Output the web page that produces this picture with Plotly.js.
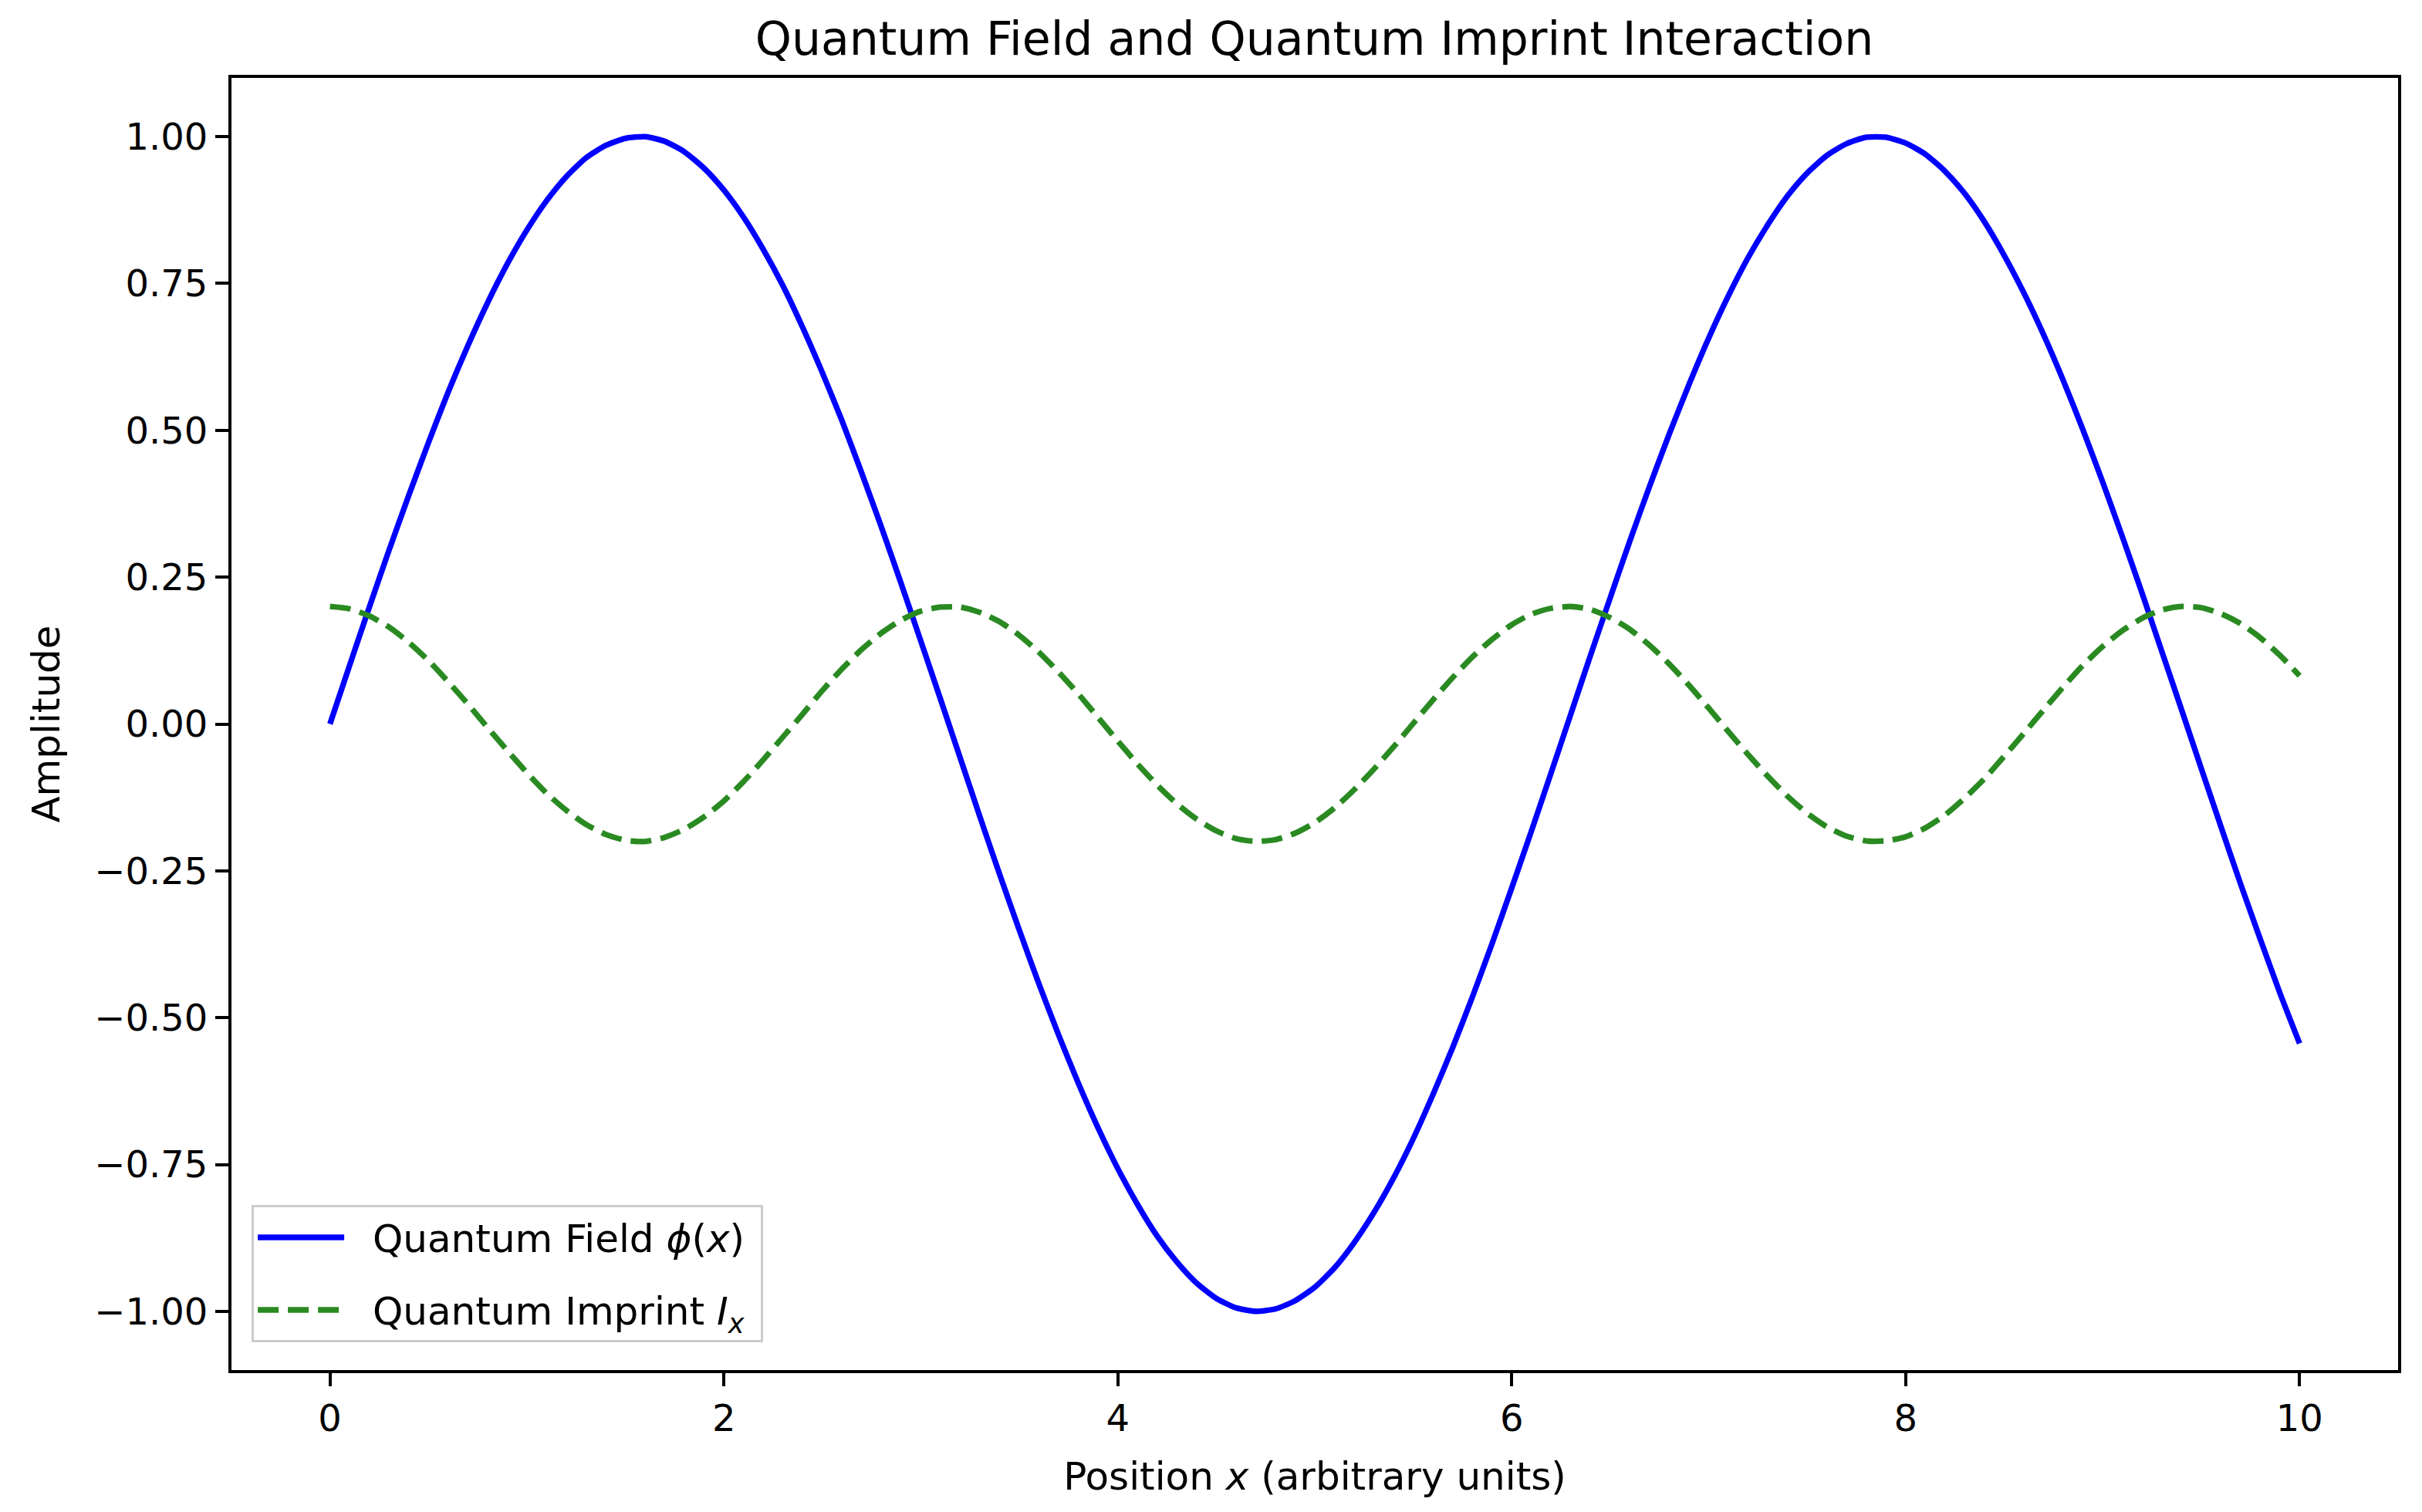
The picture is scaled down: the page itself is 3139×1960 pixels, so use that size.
<!DOCTYPE html>
<html>
<head>
<meta charset="utf-8">
<script src="https://cdn.plot.ly/plotly-3.0.1.min.js"></script>
<style>
html, body { margin: 0; padding: 0; background: #ffffff; }
#chart { width: 3139px; height: 1960px; }
</style>
</head>
<body>
<div id="chart"></div>
<script>
// Position x (arbitrary units)
const positionX = [
  0.0, 0.1, 0.2, 0.3, 0.4, 0.5, 0.6, 0.7, 0.8, 0.9,
  1.0, 1.1, 1.2, 1.3, 1.4, 1.5, 1.6, 1.7, 1.8, 1.9,
  2.0, 2.1, 2.2, 2.3, 2.4, 2.5, 2.6, 2.7, 2.8, 2.9,
  3.0, 3.1, 3.2, 3.3, 3.4, 3.5, 3.6, 3.7, 3.8, 3.9,
  4.0, 4.1, 4.2, 4.3, 4.4, 4.5, 4.6, 4.7, 4.8, 4.9,
  5.0, 5.1, 5.2, 5.3, 5.4, 5.5, 5.6, 5.7, 5.8, 5.9,
  6.0, 6.1, 6.2, 6.3, 6.4, 6.5, 6.6, 6.7, 6.8, 6.9,
  7.0, 7.1, 7.2, 7.3, 7.4, 7.5, 7.6, 7.7, 7.8, 7.9,
  8.0, 8.1, 8.2, 8.3, 8.4, 8.5, 8.6, 8.7, 8.8, 8.9,
  9.0, 9.1, 9.2, 9.3, 9.4, 9.5, 9.6, 9.7, 9.8, 9.9,
  10.0
];

// Quantum Field phi(x)
const quantumField = [
  0.000, 0.100, 0.199, 0.296, 0.389, 0.479, 0.565, 0.644, 0.717, 0.783,
  0.841, 0.891, 0.932, 0.964, 0.985, 0.997, 1.000, 0.992, 0.974, 0.946,
  0.909, 0.863, 0.808, 0.746, 0.675, 0.598, 0.516, 0.427, 0.335, 0.239,
  0.141, 0.042, -0.058, -0.158, -0.256, -0.351, -0.443, -0.530, -0.612, -0.688,
  -0.757, -0.818, -0.872, -0.916, -0.952, -0.978, -0.994, -1.000, -0.996, -0.982,
  -0.959, -0.926, -0.883, -0.832, -0.773, -0.706, -0.631, -0.551, -0.465, -0.374,
  -0.279, -0.182, -0.083, 0.017, 0.117, 0.215, 0.312, 0.405, 0.494, 0.578,
  0.657, 0.729, 0.794, 0.850, 0.899, 0.938, 0.968, 0.988, 0.999, 0.999,
  0.989, 0.970, 0.941, 0.903, 0.855, 0.798, 0.734, 0.663, 0.585, 0.501,
  0.412, 0.319, 0.223, 0.124, 0.025, -0.075, -0.174, -0.272, -0.366, -0.458,
  -0.544
];

// Quantum Imprint I_x
const quantumImprint = [
  0.200, 0.196, 0.184, 0.165, 0.139, 0.108, 0.072, 0.034, -0.006, -0.045,
  -0.083, -0.118, -0.147, -0.171, -0.188, -0.198, -0.200, -0.193, -0.179, -0.158,
  -0.131, -0.098, -0.061, -0.022, 0.017, 0.057, 0.094, 0.127, 0.155, 0.177,
  0.192, 0.199, 0.199, 0.190, 0.174, 0.151, 0.122, 0.088, 0.051, 0.011,
  -0.029, -0.068, -0.104, -0.136, -0.162, -0.182, -0.195, -0.200, -0.197, -0.186,
  -0.168, -0.143, -0.112, -0.077, -0.039, 0.001, 0.041, 0.079, 0.114, 0.144,
  0.169, 0.187, 0.197, 0.200, 0.195, 0.181, 0.161, 0.134, 0.102, 0.066,
  0.027, -0.013, -0.052, -0.089, -0.123, -0.152, -0.175, -0.191, -0.199, -0.199,
  -0.192, -0.177, -0.155, -0.126, -0.093, -0.055, -0.016, 0.024, 0.063, 0.100,
  0.132, 0.159, 0.180, 0.194, 0.200, 0.198, 0.188, 0.171, 0.147, 0.117,
  0.082
];

const xTickVals = [0, 2, 4, 6, 8, 10];
const xTickText = ['0', '2', '4', '6', '8', '10'];
const yTickVals = [-1.0, -0.75, -0.5, -0.25, 0.0, 0.25, 0.5, 0.75, 1.0];
const yTickText = ['\u22121.00', '\u22120.75', '\u22120.50', '\u22120.25', '0.00', '0.25', '0.50', '0.75', '1.00'];

const FONT = 'DejaVu Sans, Verdana, sans-serif';

const traces = [
  {
    x: positionX,
    y: quantumField,
    type: 'scatter',
    mode: 'lines',
    name: '\u00a0\u00a0Quantum Field <i>\u03D5</i>(<i>x</i>)\u00a0',
    legendgroup: 'a',
    line: { color: '#0000ff', width: 7.3, shape: 'spline', smoothing: 0.6 }
  },
  {
    x: positionX,
    y: quantumImprint,
    type: 'scatter',
    mode: 'lines',
    name: '\u00a0\u00a0Quantum Imprint <i>I</i><sub><i>x</i></sub>\u00a0',
    legendgroup: 'b',
    line: { color: '#2a8a22', width: 7.3, dash: '27px,12px', shape: 'spline', smoothing: 0.6 }
  }
];

const layout = {
  width: 3139,
  height: 1960,
  paper_bgcolor: '#ffffff',
  plot_bgcolor: '#ffffff',
  margin: { l: 300, r: 31, t: 101, b: 184, pad: 0 },
  font: { family: FONT, size: 48, color: '#000000' },
  title: {
    text: 'Quantum Field and Quantum Imprint Interaction',
    font: { family: FONT, size: 60, color: '#000000' },
    x: 0.5427,
    xref: 'container',
    xanchor: 'center',
    y: 1 - 50 / 1960,
    yref: 'container',
    yanchor: 'middle'
  },
  xaxis: {
    range: [-0.5, 10.5],
    tickmode: 'array',
    tickvals: xTickVals,
    ticktext: xTickText,
    ticks: 'outside',
    ticklen: 17,
    tickwidth: 4,
    tickcolor: '#000000',
    tickfont: { family: FONT, size: 48, color: '#000000' },
    showgrid: false,
    zeroline: false,
    showline: true,
    linecolor: '#000000',
    linewidth: 4,
    mirror: true,
    automargin: false,
    title: {
      text: 'Position <i>x</i> (arbitrary units)',
      font: { family: FONT, size: 50, color: '#000000' },
      standoff: 32
    }
  },
  yaxis: {
    range: [-1.1, 1.1],
    tickmode: 'array',
    tickvals: yTickVals,
    ticktext: yTickText,
    ticks: 'outside',
    ticklen: 17,
    tickwidth: 4,
    tickcolor: '#000000',
    tickfont: { family: FONT, size: 48, color: '#000000' },
    showgrid: false,
    zeroline: false,
    showline: true,
    linecolor: '#000000',
    linewidth: 4,
    mirror: true,
    automargin: false,
    title: {
      text: 'Amplitude',
      font: { family: FONT, size: 50, color: '#000000' },
      standoff: 30
    }
  },
  showlegend: true,
  legend: {
    x: 0.0093,
    y: 0.0215,
    xanchor: 'left',
    yanchor: 'bottom',
    bgcolor: 'rgba(255,255,255,0.8)',
    bordercolor: '#cccccc',
    borderwidth: 3,
    font: { family: FONT, size: 50, color: '#000000' },
    tracegroupgap: 26,
    itemwidth: 112
  }
};

Plotly.newPlot('chart', traces, layout, { staticPlot: true, displayModeBar: false });
</script>
</body>
</html>
